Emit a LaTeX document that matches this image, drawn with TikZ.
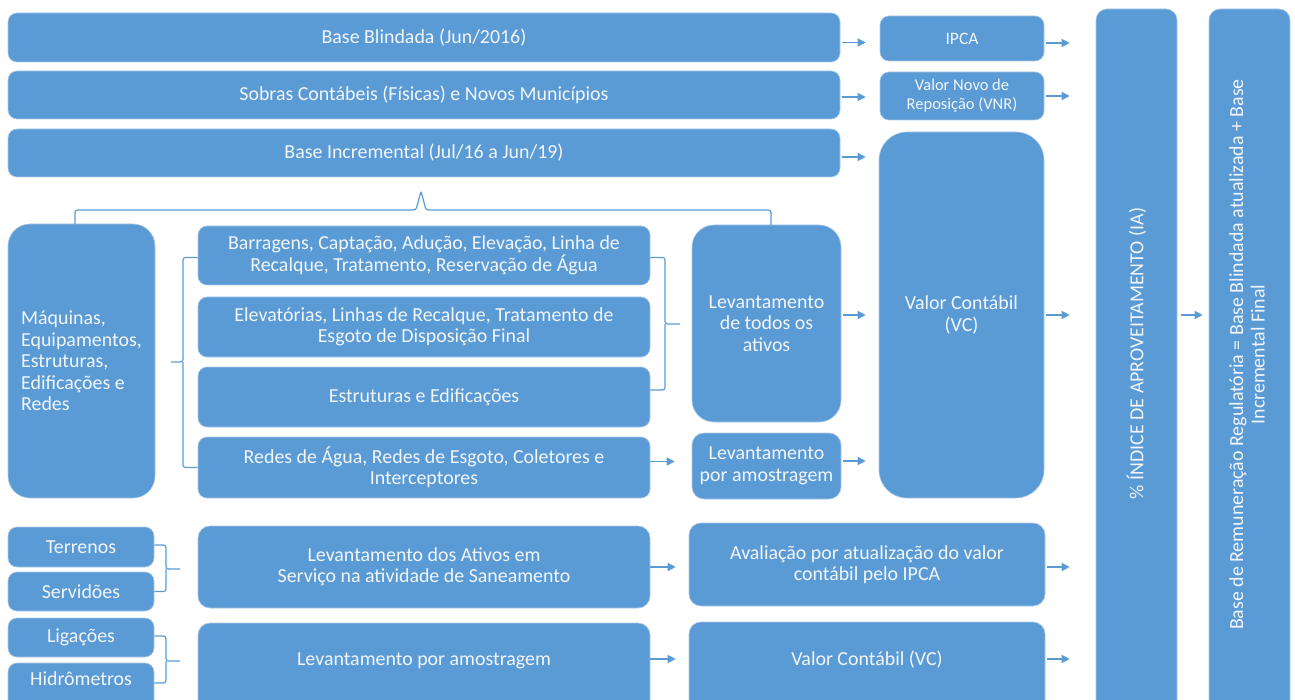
\documentclass[tikz,border=0pt]{standalone}
\usepackage{fontspec}
\setmainfont{Carlito}
\usetikzlibrary{arrows.meta,calc}
\definecolor{boxblue}{HTML}{5B9BD5}
\definecolor{edgeblue}{HTML}{A9C8E8}
\definecolor{txt}{HTML}{F2F6FB}
\begin{document}
\begin{tikzpicture}[x=1pt,y=-1pt,
  box/.style={fill=boxblue, draw=edgeblue, line width=0.6pt, text=txt, align=center,
    inner sep=2pt, font=\fontsize{19.9}{21.5}\selectfont, rounded corners=9pt},
  arr/.style={draw=boxblue, line width=1.4pt, -{Triangle[length=8pt,width=8pt]}, shorten <=2pt},
  bracel/.style={draw=boxblue, line width=1.2pt, rounded corners=2.5pt}]
\useasboundingbox (0,0) rectangle (1295,700);
\clip (0,0) rectangle (1295,700);

% top rows
\node[box, minimum width=832, minimum height=49] (bb) at (424,37.5) {Base Blindada (Jun/2016)};
\node[box, minimum width=832, minimum height=48] (sob) at (424,95) {Sobras Contábeis (Físicas) e Novos Municípios};
\node[box, minimum width=832, minimum height=48] (binc) at (424,153) {Base Incremental (Jul/16 a Jun/19)};
\node[box, minimum width=164, minimum height=45, font=\fontsize{17.5}{19}\selectfont] (ipca) at (962,38.5) {IPCA};
\node[box, minimum width=164, minimum height=48, font=\fontsize{16.5}{19}\selectfont] (vnr) at (962,96) {Valor Novo de\\Reposição (VNR)};
\node[box, minimum width=165, minimum height=366, rounded corners=28pt] (vc) at (961.5,315) {Valor Contábil\\(VC)};

% right columns
\node[box, rotate=90, minimum width=711, minimum height=81, rounded corners=11pt] (ia) at (1136.5,364.5)
  {\hspace*{22pt}\%~ÍNDICE DE APROVEITAMENTO (IA)};
\node[box, rotate=90, minimum width=711, minimum height=81, rounded corners=11pt] (fin) at (1249.5,364.5)
  {\hspace*{20pt}\begin{tabular}{@{}c@{}}Base de Remuneração Regulatória = Base Blindada atualizada + Base\\Incremental Final\end{tabular}};

% middle section
\node[box, minimum width=147, minimum height=274, rounded corners=22pt, align=left] (mq) at (81.5,361)
  {Máquinas,\\Equipamentos,\\Estruturas,\\Edificações e\\Redes};
\node[box, minimum width=452, minimum height=59] (barr) at (424,255.5)
  {Barragens, Captação, Adução, Elevação, Linha de\\Recalque, Tratamento, Reservação de Água};
\node[box, minimum width=452, minimum height=60] (elev) at (424,327)
  {Elevatórias, Linhas de Recalque, Tratamento de\\Esgoto de Disposição Final};
\node[box, minimum width=452, minimum height=60] (estr) at (424,397) {Estruturas e Edificações};
\node[box, minimum width=452, minimum height=61] (redes) at (424,467.5)
  {Redes de Água, Redes de Esgoto, Coletores e\\Interceptores};
\node[box, minimum width=149, minimum height=197, rounded corners=22pt] (levt) at (766.5,323.5)
  {Levantamento\\de todos os\\ativos};
\node[box, minimum width=149, minimum height=66, rounded corners=12pt] (leva) at (766.5,466)
  {Levantamento\\por amostragem};

% bottom section
\node[box, minimum width=146, minimum height=40] (ter) at (81,547) {Terrenos};
\node[box, minimum width=146, minimum height=39] (ser) at (81,591.5) {Servidões};
\node[box, minimum width=146, minimum height=39] (lig) at (81,637.5) {Ligações};
\node[box, minimum width=146, minimum height=49, text height=13pt, text depth=17pt] (hid) at (81,687.5) {Hidrômetros};
\node[box, minimum width=452, minimum height=82, rounded corners=12pt] (levat) at (424,567)
  {Levantamento dos Ativos em\\Serviço na atividade de Saneamento};
\node[box, minimum width=452, minimum height=89, rounded corners=12pt, text height=13pt, text depth=17pt] (levam) at (424,667.5)
  {Levantamento por amostragem};
\node[box, minimum width=356, minimum height=83, rounded corners=12pt] (aval) at (867,564.5)
  {Avaliação por atualização do valor\\contábil pelo IPCA};
\node[box, minimum width=356, minimum height=90, rounded corners=12pt, text height=13pt, text depth=16pt] (vcb) at (867,667)
  {Valor Contábil (VC)};

% braces
\coordinate (tbl) at (75,224);
\coordinate (tbr) at (771,225);
\draw[bracel] (tbl) -- (75,210) -- (416,210) -- (421,191) -- (426,210) -- (771,210) -- (tbr);
\draw[bracel] ([yshift=-2pt]barr.west) -| (183,362) -- (171,362);
\draw[bracel] (redes.west) -| (183,362);
\draw[bracel] ([yshift=-2pt]barr.east) -| (665,324) -- (680,324);
\draw[bracel] ([yshift=7pt]estr.east) -| (665,324);
\draw[bracel] ([yshift=2pt]ter.east) -| (166,569) -- (180,569);
\draw[bracel] (ser.east) -| (166,569);
\draw[bracel] ([yshift=1.5pt]lig.east) -| (166,661) -- (180,661);
\draw[bracel] ([yshift=4.5pt]hid.east) -| (166,661);

% arrows
\draw[arr, shorten >=14pt] ([yshift=-5pt]bb.east) -- ([yshift=-5pt]bb.east -| ipca.west);
\draw[arr, shorten >=26pt] ([yshift=-4.5pt]ipca.east) -- ([yshift=-4.5pt]ipca.east -| ia.north);
\draw[arr, shorten >=14pt] ([yshift=-2pt]sob.east) -- ([yshift=-2pt]sob.east -| vnr.west);
\draw[arr, shorten >=26pt] (vnr.east) -- (vnr.east -| ia.north);
\draw[arr, shorten >=13pt] ([yshift=-4pt]binc.east) -- ([yshift=-4pt]binc.east -| vc.west);
\draw[arr, shorten >=13pt] ([yshift=8.5pt]levt.east) -- ([yshift=8.5pt]levt.east -| vc.west);
\draw[arr, shorten >=26pt] (vc.east) -- (vc.east -| ia.north);
\draw[arr, shorten <=4pt, shorten >=6pt] (vc.east -| ia.south) -- (vc.east -| fin.north);
\draw[arr, shorten <=0pt, shorten >=17pt] ([yshift=6pt]redes.east) -- ([yshift=6pt]redes.east -| leva.west);
\draw[arr, shorten >=13pt] ([yshift=5pt]leva.east) -- ([yshift=5pt]leva.east -| vc.west);
\draw[arr, shorten <=0pt, shorten >=13pt] (levat.east) -- (levat.east -| aval.west);
\draw[arr, shorten >=26pt] (levat.east -| aval.east) -- (levat.east -| ia.north);
\draw[arr, shorten <=0pt, shorten >=13pt] ([yshift=8.5pt]levam.east) -- ([yshift=8.5pt]levam.east -| vcb.west);
\draw[arr, shorten >=26pt] ([yshift=8pt]vcb.east) -- ([yshift=8pt]vcb.east -| ia.north);
\end{tikzpicture}
\end{document}
